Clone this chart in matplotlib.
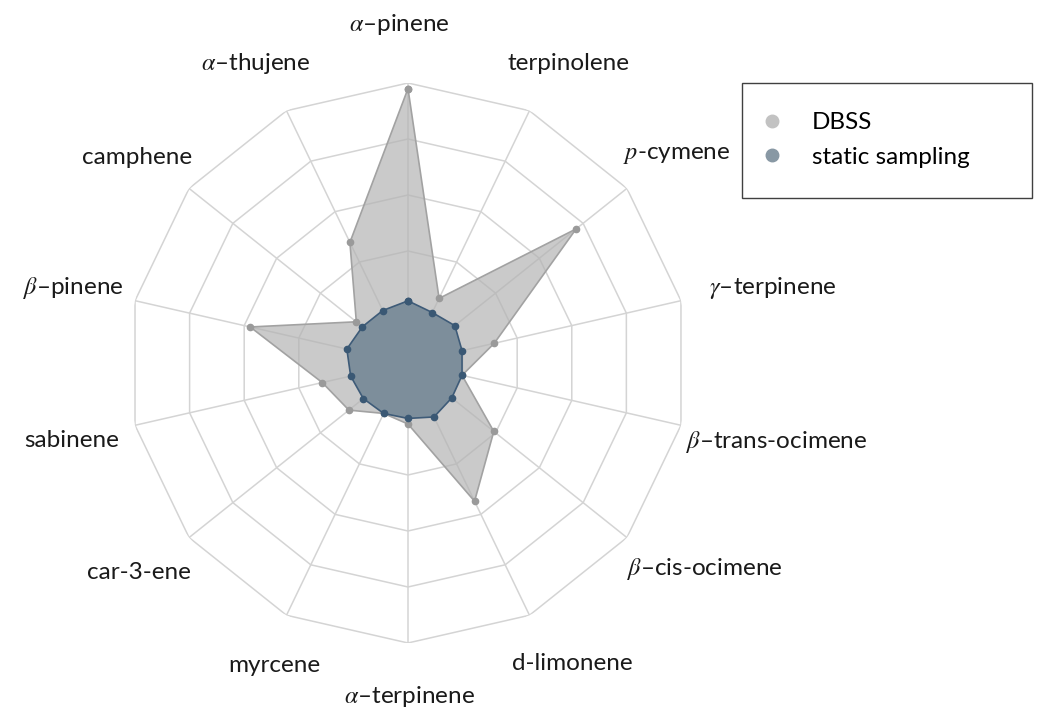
import numpy as np
import matplotlib
matplotlib.use("Agg")
import matplotlib.pyplot as plt
from matplotlib.lines import Line2D
from matplotlib.patches import Rectangle

plt.rcParams['font.family'] = ['Lato', 'DejaVu Sans']
plt.rcParams['mathtext.fontset'] = 'stix'

# categories clockwise from the top
compounds = [r'$\alpha$–pinene', 'terpinolene', r'$p$-cymene', r'$\gamma$–terpinene',
             r'$\beta$–trans-ocimene', r'$\beta$–cis-ocimene', 'd-limonene',
             r'$\alpha$–terpinene', 'myrcene', 'car-3-ene', 'sabinene',
             r'$\beta$–pinene', 'camphene', r'$\alpha$–thujene']

dbss = [4.9, 1.28, 3.84, 1.58, 0.99, 1.96, 2.74, 1.09, 1.0, 1.35, 1.57, 2.89, 1.18, 2.39]
static = [1.11, 1.0, 1.07, 0.99, 0.99, 1.0, 1.07, 0.99, 1.0, 1.02, 1.05, 1.12, 1.04, 1.04]
rings = [1, 2, 3, 4, 5]

# where each label centre sits (layout only): angle in degrees, radius in ring units
label_deg = [358.5, 28.1, 52.3, 78.4, 102.1, 124.7, 151.3, 179.8, 203.9, 232.0,
             257.1, 282.6, 307.2, 333.0]
label_r = [6.04, 6.07, 6.07, 6.65, 6.74, 6.45, 6.11, 5.96, 5.9, 6.09, 6.17, 6.13, 6.08, 6.01]

n = len(compounds)
angles = np.linspace(0, 2 * np.pi, n, endpoint=False)
ang_c = np.append(angles, angles[0])

fig = plt.figure(figsize=(10.38, 7.13), dpi=100)
ax = fig.add_axes([0.1233, 0.0982, 0.5395, 0.7854], projection='polar')
ax.set_theta_zero_location('N')
ax.set_theta_direction(-1)
ax.set_ylim(0, 5)
ax.grid(False)
ax.spines['polar'].set_visible(False)
ax.set_xticks([])
ax.set_yticks([])

grid_col = '#d4d4d4'
for r in rings:
    ax.plot(ang_c, [r] * (n + 1), color=grid_col, lw=1.1, zorder=1)
for a in angles:
    ax.plot([a, a], [0, rings[-1]], color=grid_col, lw=1.1, zorder=1)

d = dbss + dbss[:1]
s = static + static[:1]
ax.fill(ang_c, d, color='#b4b4b4', alpha=0.7, zorder=2, lw=0)
ax.plot(ang_c, d, color='#a2a2a2', lw=1.2, marker='o', ms=4.5,
        mfc='#9a9a9a', mec='#9a9a9a', zorder=3)
ax.fill(ang_c, s, color='#7d8e9b', alpha=1.0, zorder=4, lw=0)
ax.plot(ang_c, s, color='#3e5b78', lw=1.2, marker='o', ms=4.5,
        mfc='#3a5874', mec='#3a5874', zorder=5)

for lab, deg, lr in zip(compounds, label_deg, label_r):
    ax.text(np.deg2rad(deg), lr, lab, ha='center', va='center', fontsize=17.5,
            color='#1a1a1a')

# legend box
fig.patches.append(Rectangle((0.715, 0.722), 0.279, 0.161, transform=fig.transFigure,
                             fill=False, edgecolor='#404040', lw=1.0))
handles = [Line2D([], [], ls='none', marker='o', ms=9, mfc='#c2c2c2', mec='#c2c2c2'),
           Line2D([], [], ls='none', marker='o', ms=9, mfc='#8898a4', mec='#8898a4')]
fig.legend(handles, ['DBSS', 'static sampling'], loc='center left',
           bbox_to_anchor=(0.732, 0.8036), borderaxespad=0, borderpad=0,
           fontsize=17.5, frameon=False, labelspacing=0.55,
           handlelength=1.0, handletextpad=1.15)

fig.savefig('out.png', dpi=100)
